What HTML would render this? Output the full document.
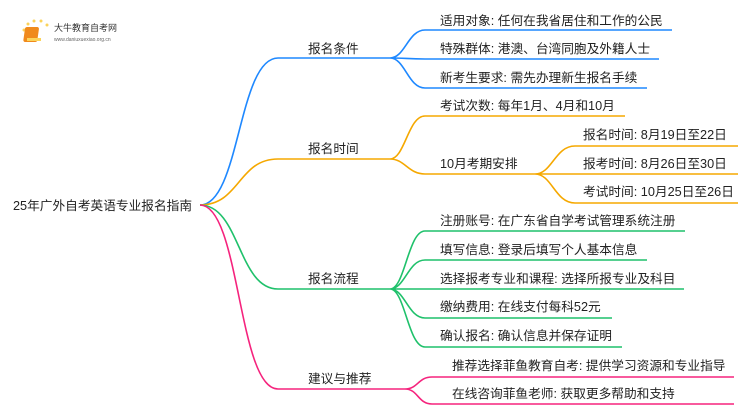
<!DOCTYPE html>
<html><head><meta charset="utf-8"><style>
body{margin:0;background:#fff;width:750px;height:410px;overflow:hidden}
svg text{font-family:"Liberation Sans","Noto Sans CJK SC",sans-serif;font-size:12.7px;fill:#222}
</style></head><body>
<svg width="750" height="410" viewBox="0 0 750 410">
<g fill="none" stroke-width="1.6">
<path d="M200 205 C240 205,238 58,278 58 H390" stroke="#1e88ff"/>
<path d="M390 58 C405 58,408 30,425 30 H672 M390 58 C405 58,408 59,425 59 H659 M390 58 C405 58,408 88,425 88 H647" stroke="#1e88ff"/>
<path d="M200 205 C240 205,238 159,278 159 H390" stroke="#f5a800"/>
<path d="M390 159 C405 159,408 116,425 116 H625 M390 159 C405 159,408 174,425 174 H535" stroke="#f5a800"/>
<path d="M535 174 C552 174,555 146,575 146 H738 M535 174 C552 174,555 174,575 174 H738 M535 174 C552 174,555 203,575 203 H738" stroke="#f5a800"/>
<path d="M200 205 C240 205,238 289,278 289 H390" stroke="#1fc16b"/>
<path d="M390 289 C405 289,408 231,425 231 H685 M390 289 C405 289,408 260,425 260 H647 M390 289 C405 289,408 289,425 289 H684 M390 289 C405 289,408 318,425 318 H612 M390 289 C405 289,408 347,425 347 H622" stroke="#1fc16b"/>
<path d="M200 205 C240 205,238 389,278 389 H405" stroke="#f5237d"/>
<path d="M405 389 C418 389,418 377,432 377 H734 M405 389 C418 389,418 404,432 404 H734" stroke="#f5237d"/>
</g>
<text x="13" y="210">25年广外自考英语专业报名指南</text>
<text x="308" y="53">报名条件</text>
<text x="308" y="153">报名时间</text>
<text x="308" y="283">报名流程</text>
<text x="308" y="383">建议与推荐</text>
<text x="440" y="25">适用对象: 任何在我省居住和工作的公民</text>
<text x="440" y="53">特殊群体: 港澳、台湾同胞及外籍人士</text>
<text x="440" y="82">新考生要求: 需先办理新生报名手续</text>
<text x="440" y="110">考试次数: 每年1月、4月和10月</text>
<text x="440" y="168">10月考期安排</text>
<text x="583" y="139">报名时间: 8月19日至22日</text>
<text x="583" y="168">报考时间: 8月26日至30日</text>
<text x="583" y="196">考试时间: 10月25日至26日</text>
<text x="440" y="225">注册账号: 在广东省自学考试管理系统注册</text>
<text x="440" y="254">填写信息: 登录后填写个人基本信息</text>
<text x="440" y="283">选择报考专业和课程: 选择所报专业及科目</text>
<text x="440" y="311">缴纳费用: 在线支付每科52元</text>
<text x="440" y="340">确认报名: 确认信息并保存证明</text>
<text x="452" y="370">推荐选择菲鱼教育自考: 提供学习资源和专业指导</text>
<text x="452" y="398">在线咨询菲鱼老师: 获取更多帮助和支持</text>
<g>
<circle cx="24" cy="30" r="1.5" fill="#fbd35a"/><circle cx="28" cy="24" r="1.5" fill="#fbd35a"/><circle cx="34" cy="21" r="1.5" fill="#fbd35a"/><circle cx="41" cy="21" r="1.5" fill="#fbd35a"/><circle cx="47" cy="25" r="1.5" fill="#fbd35a"/>
<rect x="29" y="27" width="14" height="15" rx="2" fill="#f08a1c" transform="skewX(-8)"/>
<rect x="27" y="38" width="14" height="3" fill="#fbd35a"/>
<text x="54" y="31" style="font-size:9px;fill:#333">大牛教育自考网</text>
<text x="54" y="41" style="font-size:5px;fill:#666">www.daniuxuexiao.org.cn</text>
</g>
</svg>
</body></html>
